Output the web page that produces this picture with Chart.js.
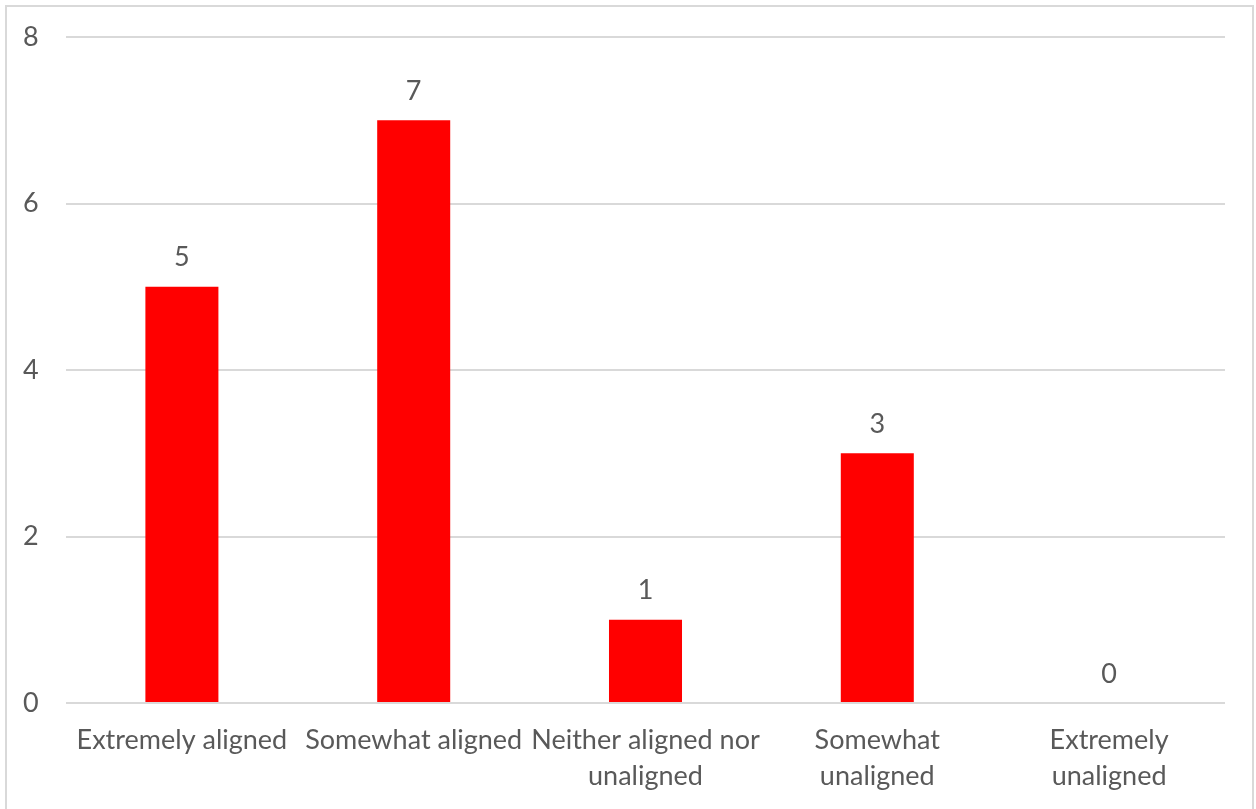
<!DOCTYPE html>
<html>
<head>
<meta charset="utf-8">
<script src="https://cdn.jsdelivr.net/npm/chart.js@4/dist/chart.umd.min.js"></script>
<style>
  html, body { margin: 0; padding: 0; background: #ffffff; }
  #wrap { position: relative; width: 1256px; height: 809px; }
</style>
</head>
<body>
<div id="wrap"><canvas id="chart" width="1256" height="809"></canvas></div>
<script>
// Survey answers: how aligned respondents feel
const categories = [
  'Extremely aligned',
  'Somewhat aligned',
  ['Neither aligned nor', 'unaligned'],
  ['Somewhat', 'unaligned'],
  ['Extremely', 'unaligned']
];
const counts = [5, 7, 1, 3, 0];
const yTicks = [0, 2, 4, 6, 8];

const TEXT = '#595959';
const GRID = '#d9d9d9';
const FONT = 'Lato, "Open Sans", sans-serif';
const FONT_SIZE = 27;

// Light frame around the whole figure
const framePlugin = {
  id: 'frame',
  beforeDraw(chart) {
    const ctx = chart.ctx;
    ctx.save();
    ctx.fillStyle = '#ffffff';
    ctx.fillRect(0, 0, chart.width, chart.height);
    ctx.strokeStyle = GRID;
    ctx.lineWidth = 2;
    ctx.strokeRect(6, 6, 1247, 900);
    ctx.restore();
  }
};

// Value printed above each bar
const valueLabels = {
  id: 'valueLabels',
  afterDatasetsDraw(chart) {
    const ctx = chart.ctx;
    const meta = chart.getDatasetMeta(0);
    ctx.save();
    ctx.font = FONT_SIZE + 'px ' + FONT;
    ctx.fillStyle = TEXT;
    ctx.textAlign = 'center';
    ctx.textBaseline = 'middle';
    meta.data.forEach((bar, i) => {
      ctx.fillText(String(counts[i]), bar.x, bar.y - 29);
    });
    ctx.restore();
  }
};

new Chart(document.getElementById('chart'), {
  type: 'bar',
  data: {
    labels: categories,
    datasets: [{
      data: counts,
      backgroundColor: '#ff0000',
      borderWidth: 0,
      categoryPercentage: 1,
      barPercentage: 0.315
    }]
  },
  options: {
    responsive: false,
    animation: false,
    layout: { padding: { left: 23, top: 37, right: 31, bottom: 0 } },
    plugins: {
      legend: { display: false },
      tooltip: { enabled: false }
    },
    scales: {
      x: {
        grid: { display: false, drawTicks: false },
        border: { display: false },
        ticks: {
          color: TEXT,
          font: { family: FONT, size: FONT_SIZE, lineHeight: 1.33 },
          padding: 19,
          maxRotation: 0,
          autoSkip: false
        },
        afterFit(scale) { scale.height = 106; }
      },
      y: {
        min: 0,
        max: 8,
        afterBuildTicks(scale) { scale.ticks = yTicks.map(v => ({ value: v })); },
        grid: { color: GRID, lineWidth: 2, drawTicks: false },
        border: { display: false },
        ticks: {
          color: TEXT,
          font: { family: FONT, size: FONT_SIZE },
          padding: 0,
          crossAlign: 'far'
        },
        afterFit(scale) { scale.width = 43; }
      }
    }
  },
  plugins: [framePlugin, valueLabels]
});
</script>
</body>
</html>
